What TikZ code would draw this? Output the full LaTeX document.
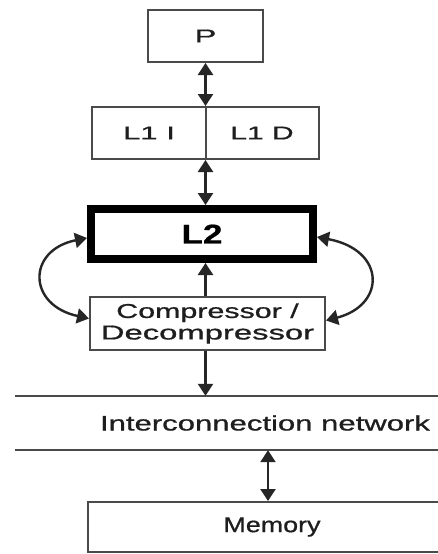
\documentclass[tikz,border=0pt]{standalone}
\usepackage{graphicx}
\usepackage{fontspec}
\setmainfont[FakeBold=0.7]{Liberation Sans}
\usetikzlibrary{arrows.meta}
\newcommand\sx[2]{\scalebox{#1}[1]{#2}}
\definecolor{ln}{HTML}{4A4A4A}
\definecolor{tx}{HTML}{1E1E1E}
\tikzset{
  box/.style={draw=ln, line width=2pt, inner sep=0pt, text=tx, fill=white},
  conn/.style={draw=black!85, line width=2.4pt},
  tip/.tip={Triangle[length=12pt,width=15pt]},
  both/.style={conn,{tip}-{tip}},
  one/.style={conn,-{tip}},
}
\begin{document}
\begin{tikzpicture}[x=1pt,y=-1pt]
\clip (0,0) rectangle (438,554);
\fill[white] (0,0) rectangle (438,554);
% nodes
\node[box, minimum width=115pt, minimum height=52pt, font=\fontsize{18.5}{20}\selectfont] (P) at (205.5,36) {\sx{1.75}{P}};
\node[box, minimum width=227pt, minimum height=52pt] (L1) at (205.5,133) {};
\node[text=tx, font=\fontsize{18.5}{20}\selectfont] (L1I) at (149,133) {\sx{1.68}{L1 I}};
\node[text=tx, font=\fontsize{18.5}{20}\selectfont] (L1D) at (262,133) {\sx{1.62}{L1 D}};
\draw[draw=ln, line width=2pt] (L1.north) -- (L1.south);
\node[box, draw=black, line width=8pt, minimum width=222pt, minimum height=50pt, text=black, font=\bfseries\fontsize{27}{30}\selectfont] (L2) at (202,234) {\sx{1.3}{L2}};
\node[box, minimum width=235pt, minimum height=53pt, align=center, font=\fontsize{20}{23}\selectfont] (comp) at (207.5,323.5) {\sx{1.52}{Compressor /}\\[-1.5pt]\sx{1.64}{Decompressor}};
\node[inner sep=0pt, minimum width=500pt, minimum height=54pt, text=tx, font=\fontsize{21}{22}\selectfont] (net) at (265,423) {\sx{1.48}{Interconnection network}};
\draw[draw=ln, line width=2pt] (net.north west) -- (net.north east);
\draw[draw=ln, line width=2pt] (net.south west) -- (net.south east);
\node[box, minimum width=368pt, minimum height=50pt, font=\fontsize{21.5}{23}\selectfont] (mem) at (272,527) {\sx{1.25}{Memory}};
% connectors
\draw[both] (P.south -| L1.north) -- (L1.north);
\draw[both] (L1.south) -- (L1.south |- L2.north);
\draw[one] (comp.north -| L1.south) -- (L1.south |- L2.south);
\draw[one] (comp.south -| L1.south) -- (L1.south |- net.north);
\coordinate (m1) at ([xshift=-4pt]mem.north |- net.south);
\draw[both] (m1) -- ([xshift=-4pt]mem.north);
\draw[both] ([yshift=-4pt]L2.west) .. controls (27,250) and (27,305) .. ([yshift=5pt]comp.west);
\draw[both] ([yshift=-3pt]L2.east) .. controls (386,250) and (386,305) .. ([yshift=3pt]comp.east);
\end{tikzpicture}
\end{document}
